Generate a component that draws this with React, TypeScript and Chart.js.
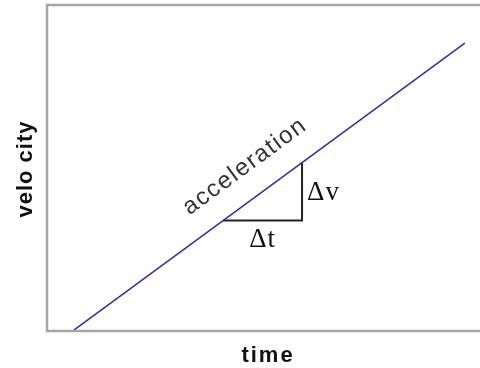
import React, { useEffect, useRef } from "react";
import { Chart, registerables } from "chart.js";

Chart.register(...registerables);

// Line of constant acceleration (time, velocity)
const lineTime = [0.62, 9.65];
const lineVelocity = [0.03, 8.83];

// Slope triangle under the line
const triTime = [4.07, 5.89, 5.89];
const triVelocity = [3.39, 3.39, 5.17];

const xTitle = "time";
const yTitle = "velo city";
const lineLabel = "acceleration";
const dtLabel = "Δt";
const dvLabel = "Δv";

const overlay = {
  id: "overlay",
  afterDraw(chart: any) {
    const ctx = chart.ctx as CanvasRenderingContext2D;
    const area = chart.chartArea;
    const xs = chart.scales.x;
    const ys = chart.scales.y;
    ctx.save();
    // frame (left, top, bottom)
    ctx.strokeStyle = "#a6a6a6";
    ctx.lineWidth = 2.5;
    ctx.beginPath();
    ctx.moveTo(area.right + 5, area.top);
    ctx.lineTo(area.left, area.top);
    ctx.lineTo(area.left, area.bottom);
    ctx.lineTo(area.right + 5, area.bottom);
    ctx.stroke();

    // axis titles
    ctx.fillStyle = "#111";
    ctx.font = "bold 22px 'Liberation Sans', Arial, sans-serif";
    (ctx as any).letterSpacing = "2px";
    ctx.textAlign = "center";
    ctx.textBaseline = "alphabetic";
    ctx.fillText(xTitle, (area.left + area.right) / 2 + 4.5, area.bottom + 31);
    (ctx as any).letterSpacing = "1px";
    ctx.save();
    ctx.translate(32, (area.top + area.bottom) / 2 + 1);
    ctx.rotate(-Math.PI / 2);
    ctx.fillText(yTitle, 0, 0);
    ctx.restore();

    // acceleration label along the line
    const x0 = xs.getPixelForValue(lineTime[0]);
    const y0 = ys.getPixelForValue(lineVelocity[0]);
    const x1 = xs.getPixelForValue(lineTime[1]);
    const y1 = ys.getPixelForValue(lineVelocity[1]);
    const ang = Math.atan2(y1 - y0, x1 - x0);
    const t = 0.486;
    const px = x0 + (x1 - x0) * t;
    const py = y0 + (y1 - y0) * t;
    ctx.save();
    ctx.translate(px, py);
    ctx.rotate(ang);
    ctx.fillStyle = "#333";
    ctx.font = "24px 'Liberation Sans', Arial, sans-serif";
    (ctx as any).letterSpacing = "1.5px";
    ctx.textAlign = "center";
    ctx.fillText(lineLabel, -1, -24);
    ctx.restore();

    // delta labels
    (ctx as any).letterSpacing = "1px";
    ctx.fillStyle = "#111";
    ctx.font = "27px 'Liberation Serif', 'Times New Roman', serif";
    const bx0 = xs.getPixelForValue(triTime[0]);
    const bx1 = xs.getPixelForValue(triTime[1]);
    const by = ys.getPixelForValue(triVelocity[0]);
    const ty = ys.getPixelForValue(triVelocity[2]);
    ctx.textAlign = "center";
    ctx.fillText(dtLabel, (bx0 + bx1) / 2, by + 27);
    ctx.textAlign = "left";
    ctx.fillText(dvLabel, bx1 + 5, (by + ty) / 2 + 9);
    ctx.restore();
  },
};

export default function App() {
  const ref = useRef<HTMLCanvasElement | null>(null);
  useEffect(() => {
    if (!ref.current) return;
    const chart = new Chart(ref.current, {
      type: "scatter",
      data: {
        datasets: [
          {
            data: lineTime.map((x, i) => ({ x, y: lineVelocity[i] })),
            showLine: true,
            borderColor: "#2e2e9e",
            borderWidth: 1.5,
            pointRadius: 0,
          },
          {
            data: triTime.map((x, i) => ({ x, y: triVelocity[i] })),
            showLine: true,
            borderColor: "#222",
            borderWidth: 2,
            pointRadius: 0,
          },
        ],
      },
      options: {
        responsive: false,
        animation: false,
        layout: { padding: { left: 47, top: 5, right: 0, bottom: 37 } },
        plugins: { legend: { display: false }, tooltip: { enabled: false } },
        scales: {
          x: { type: "linear", min: 0, max: 10, display: false },
          y: { type: "linear", min: 0, max: 10, display: false },
        },
      },
      plugins: [overlay],
    });
    return () => chart.destroy();
  }, []);
  return (
    <div style={{ position: "absolute", left: 0, top: 0, width: 480, height: 368, background: "#fff" }}>
      <canvas ref={ref} width={480} height={368} />
    </div>
  );
}
